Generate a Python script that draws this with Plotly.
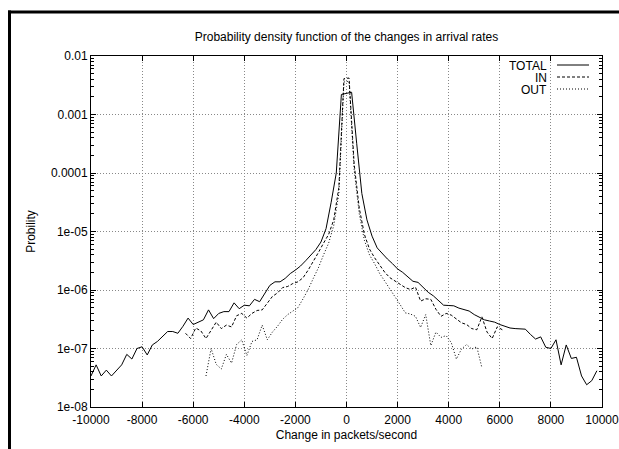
import plotly.graph_objects as go

# ---------------- data ----------------
total_x = list(range(-10000, 10000, 200))
total_y = [
    3.39e-8, 5.25e-8, 3.39e-8, 4.27e-8, 3.39e-8, 4.17e-8, 5.25e-8, 7.94e-8, 6.61e-8, 1.00e-7,
    1.07e-7, 7.76e-8, 1.15e-7, 1.32e-7, 1.58e-7, 1.95e-7, 1.95e-7, 1.82e-7, 2.40e-7, 3.31e-7,
    2.57e-7, 2.82e-7, 3.09e-7, 4.57e-7, 3.24e-7, 3.98e-7, 4.27e-7, 4.27e-7, 6.03e-7, 4.79e-7,
    5.50e-7, 5.37e-7, 6.92e-7, 6.31e-7, 8.91e-7, 1.20e-6, 1.38e-6, 1.38e-6, 1.58e-6, 1.91e-6,
    2.19e-6, 2.57e-6, 3.16e-6, 3.98e-6, 4.90e-6, 6.61e-6,
    1.12e-5, 3.16e-5, 1.00e-4, 2.2e-3, 2.3e-3, 2.4e-3, 3.16e-4, 4.47e-5, 1.58e-5, 8.32e-6,
    5.25e-6, 4.17e-6, 3.39e-6, 2.82e-6, 2.29e-6, 2.00e-6, 1.66e-6, 1.41e-6, 1.35e-6, 1.10e-6,
    9.12e-7, 7.94e-7, 6.61e-7, 5.50e-7, 5.43e-7, 5.37e-7, 4.90e-7, 4.57e-7, 4.37e-7, 3.80e-7,
    3.39e-7, 3.09e-7, 2.95e-7, 2.82e-7, 2.57e-7, 2.40e-7, 2.24e-7, 2.19e-7, 2.14e-7, 2.14e-7,
    1.74e-7, 1.45e-7, 1.58e-7, 1.05e-7, 1.00e-7, 1.41e-7, 5.25e-8, 1.15e-7, 6.76e-8, 7.08e-8,
    3.39e-8, 2.40e-8, 2.82e-8, 4.17e-8,
]

in_x = list(range(-6300, 6200, 200))
in_y = [
    1.82e-7, 1.48e-7, 2.24e-7, 2.00e-7, 1.48e-7, 2.00e-7, 2.82e-7, 2.19e-7, 2.51e-7, 2.34e-7,
    3.63e-7, 3.98e-7, 3.31e-7, 3.98e-7, 4.47e-7, 4.57e-7, 6.03e-7, 7.76e-7, 8.91e-7, 1.10e-6,
    1.15e-6, 1.29e-6, 1.38e-6, 1.62e-6, 2.19e-6, 3.02e-6, 4.37e-6,
    6.31e-6, 8.91e-6, 1.58e-5, 5.62e-5, 4.1e-3, 4.2e-3, 1.41e-4, 2.51e-5, 8.91e-6, 5.01e-6,
    3.55e-6, 2.63e-6, 2.00e-6, 1.62e-6, 1.41e-6, 1.26e-6, 1.10e-6, 1.02e-6, 1.12e-6, 6.46e-7,
    7.08e-7, 6.92e-7, 4.68e-7, 3.55e-7, 3.98e-7, 3.72e-7, 3.16e-7, 2.75e-7, 2.57e-7, 2.19e-7,
    2.09e-7, 3.47e-7, 1.91e-7, 1.48e-7, 2.34e-7, 2.09e-7,
]

out_x = list(range(-5500, 5400, 200))
out_y = [
    3.39e-8, 1.00e-7, 5.37e-8, 4.47e-8, 7.94e-8, 5.62e-8, 1.17e-7, 1.41e-7, 7.59e-8, 1.32e-7,
    1.41e-7, 2.51e-7, 1.41e-7, 1.91e-7, 2.40e-7, 3.16e-7, 3.80e-7, 4.37e-7, 5.01e-7, 7.08e-7,
    1.02e-6, 1.58e-6, 2.40e-6,
    3.98e-6, 6.31e-6, 1.26e-5, 4.47e-5, 3.6e-3, 3.7e-3, 1.12e-4, 2.00e-5, 7.08e-6, 3.98e-6,
    2.82e-6, 1.91e-6, 1.41e-6, 1.05e-6, 7.94e-7, 5.62e-7, 4.07e-7, 3.89e-7, 3.55e-7, 2.29e-7,
    3.80e-7, 1.12e-7, 1.91e-7, 1.55e-7, 1.66e-7, 1.26e-7, 6.61e-8, 9.77e-8, 1.17e-7, 9.77e-8,
    1.07e-7, 4.68e-8,
]

x_ticks = [-10000, -8000, -6000, -4000, -2000, 0, 2000, 4000, 6000, 8000, 10000]
x_tick_text = ["-10000", "-8000", "-6000", "-4000", "-2000", "0", "2000", "4000", "6000", "8000", "10000"]
y_ticks = [1e-8, 1e-7, 1e-6, 1e-5, 1e-4, 1e-3, 1e-2]
y_tick_text = ["1e-08", "1e-07", "1e-06", "1e-05", "0.0001", "0.001", "0.01"]

series_names = ["TOTAL", "IN", "OUT"]
series_dash = ["solid", "3px,2px", "1px,2px"]

# ---------------- figure ----------------
FONT = "Liberation Sans, Arial, sans-serif"
FS = 12
W, H = 619, 449
L, R, T, B = 91, 17, 56, 42
pw, ph = W - L - R, H - T - B

def px_x(px):
    return (px - L) / pw

def px_y(py):
    return (H - B - py) / ph

fig = go.Figure()
for name, xs, ys, dash in zip(series_names, [total_x, in_x, out_x], [total_y, in_y, out_y], series_dash):
    fig.add_trace(go.Scatter(x=xs, y=ys, mode="lines", name=name,
                             line=dict(color="black", width=1, dash=dash), showlegend=False))

axis_common = dict(showline=True, linecolor="black", linewidth=1, mirror="ticks",
                   ticks="inside", ticklen=5, tickcolor="black", tickwidth=1,
                   showgrid=True, gridcolor="#888888", griddash="1px,2px", gridwidth=1,
                   zeroline=False, automargin=False, ticklabeloverflow="allow",
                   tickfont=dict(family=FONT, size=FS, color="black"))

fig.update_layout(
    width=W, height=H, autosize=False,
    margin=dict(l=L, r=R, t=T, b=B, autoexpand=False),
    paper_bgcolor="white", plot_bgcolor="white",
    font=dict(family=FONT, size=FS, color="black"),
    title=dict(text="Probability density function of the changes in arrival rates",
               x=0.5, xref="paper", y=1 - 37 / H, yref="container", yanchor="middle",
               font=dict(family=FONT, size=FS, color="black")),
    xaxis=dict(range=[-10000, 10000], tickvals=x_ticks, ticktext=x_tick_text,
               ticklabelstandoff=2,
               title=dict(text="Change in packets/second", standoff=4,
                          font=dict(family=FONT, size=FS, color="black")),
               **axis_common),
    yaxis=dict(type="log", range=[-8, -2], tickvals=y_ticks, ticktext=y_tick_text,
               title=dict(text="Probility", standoff=12,
                          font=dict(family=FONT, size=FS, color="black")),
               minor=dict(ticks="inside", ticklen=3, tickcolor="black", dtick="D1", showgrid=False),
               **axis_common),
)

# legend drawn gnuplot style (text right-aligned, sample line to its right)
rows = [65, 77, 89]
for name, dash, py in zip(series_names, series_dash, rows):
    fig.add_annotation(text=name, xref="paper", yref="paper", x=px_x(548), y=px_y(py),
                       xanchor="right", yanchor="middle", showarrow=False, height=11,
                       borderpad=0, font=dict(family=FONT, size=FS, color="black"))
    fig.add_shape(type="line", xref="paper", yref="paper",
                  x0=px_x(557), x1=px_x(589), y0=px_y(py), y1=px_y(py),
                  line=dict(color="black", width=1, dash=dash))

# outer page frame (thick black top and left edges)
fig.add_shape(type="line", xref="paper", yref="paper", x0=px_x(8), x1=px_x(640),
              y0=px_y(12), y1=px_y(12), line=dict(color="black", width=3))
fig.add_shape(type="line", xref="paper", yref="paper", x0=px_x(9.5), x1=px_x(9.5),
              y0=px_y(10.5), y1=px_y(470), line=dict(color="black", width=3))

fig.write_html("out.html", config={"displayModeBar": False, "responsive": False},
               default_width="619px", default_height="449px",
               post_script=("document.documentElement.style.overflow='hidden';"
                            "document.body.style.margin='0';"
                            "document.body.style.overflow='hidden';"))
